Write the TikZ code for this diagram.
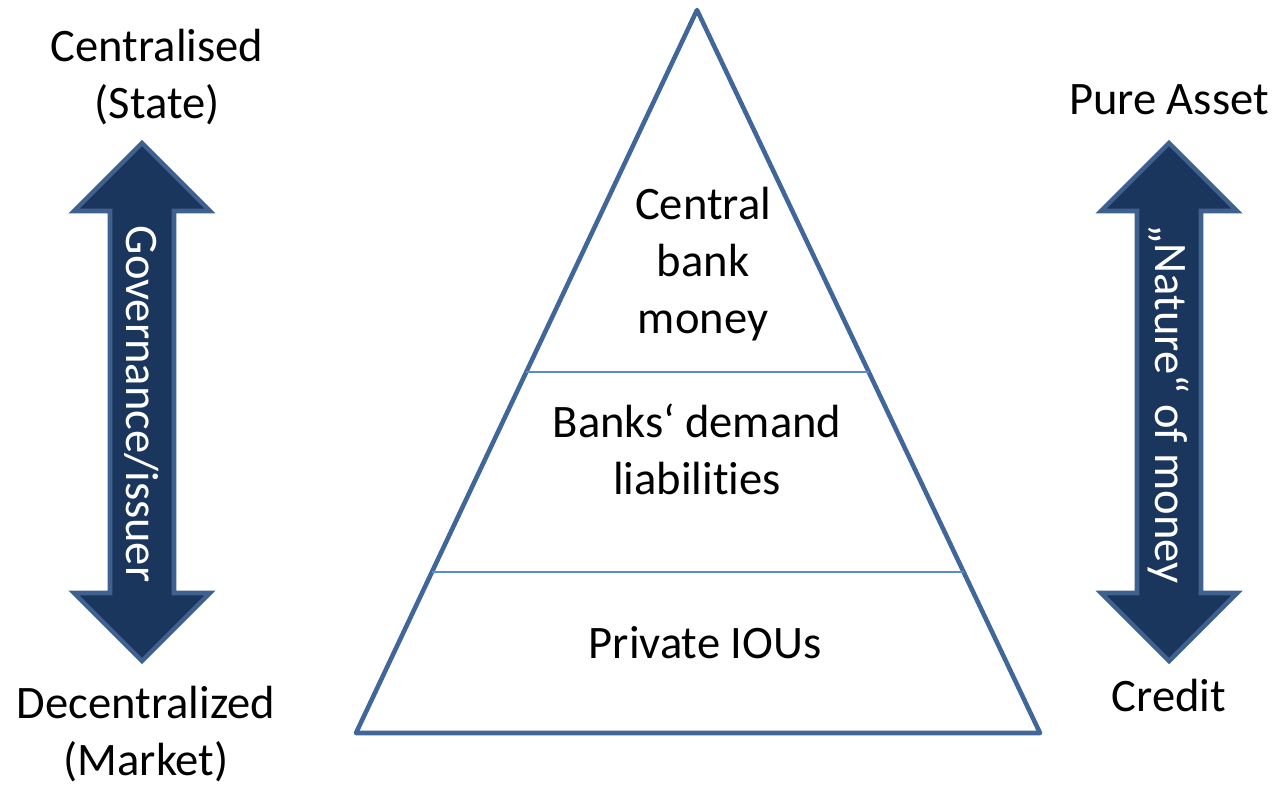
\documentclass[tikz,border=0pt]{standalone}
\usepackage{fontspec}
\setmainfont[Ligatures=NoCommon]{Carlito}
\usepackage{xcolor}
\usetikzlibrary{calc}
\definecolor{edgeblue}{HTML}{41679A}
\definecolor{lineblue}{HTML}{5B8BC9}
\definecolor{navy}{HTML}{1B365D}
\definecolor{rimblue}{HTML}{3F6190}
\tikzset{
  lbl/.style={font=\fontsize{26.5}{32.3}\selectfont,align=center,inner sep=0pt},
  arrowlbl/.style={lbl,text=white,rotate=-90},
  arrowfill/.style={fill=navy,draw=rimblue,line width=2.6pt,line join=miter},
}
\newcommand{\drawDblArrow}[2]{% center: x,y (y grows downward)
  \draw[arrowfill] (#1,#2-259) -- (#1+68,#2-191) -- (#1+32,#2-191) -- (#1+32,#2+191)
    -- (#1+68,#2+191) -- (#1,#2+259) -- (#1-68,#2+191) -- (#1-32,#2+191)
    -- (#1-32,#2-191) -- (#1-68,#2-191) -- cycle;
}
\begin{document}
\begin{tikzpicture}[x=0.02cm,y=-0.02cm]
\useasboundingbox (0,0) rectangle (1278,785);

% Pyramid
\coordinate (apex) at (697,10);
\coordinate (bl) at (356,733);
\coordinate (br) at (1040,733);
\draw[edgeblue,line width=2.6pt,line join=round] (apex) -- (bl) -- (br) -- cycle;

% Layer borders
\draw[lineblue,line width=0.8pt] ($(apex)!0.5007!(bl)$) -- ($(apex)!0.5007!(br)$);
\draw[lineblue,line width=0.8pt] ($(apex)!0.7773!(bl)$) -- ($(apex)!0.7773!(br)$);

% Layer texts
\node[lbl] (cbmoney) at (703,264) {Central\\bank\\money};
\node[lbl] (banks) at (697,449) {Banks‘ demand\\liabilities};
\node[lbl] (ious) at (705,643) {Private IOUs};

% Left arrow: governance
\drawDblArrow{142}{402}
\node[arrowlbl] (gov) at (142,404) {Governance/issuer};
\node[lbl] (state) at (157,77) {Centralised\\(State)};
\node[lbl] (market) at (146,734) {Decentralized\\(Market)};

% Right arrow: nature of money
\drawDblArrow{1169}{402}
\node[arrowlbl] (nature) at (1169,404) {„Nature“ of money};
\node[lbl] (asset) at (1169,100) {Pure Asset};
\node[lbl] (credit) at (1169,695) {Credit};
\end{tikzpicture}
\end{document}
